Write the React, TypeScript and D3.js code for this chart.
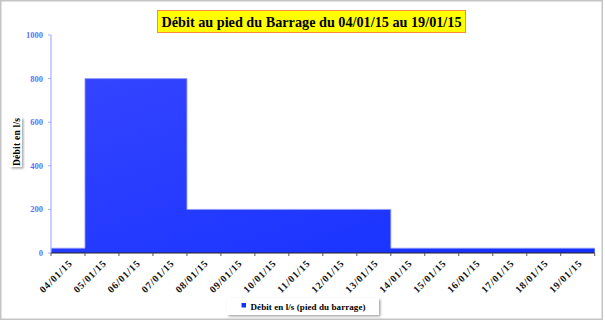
import React from "react";
import * as d3 from "d3";

const categories = ["04/01/15","05/01/15","06/01/15","07/01/15","08/01/15","09/01/15","10/01/15","11/01/15","12/01/15","13/01/15","14/01/15","15/01/15","16/01/15","17/01/15","18/01/15","19/01/15"];
const values = [22, 800, 800, 800, 200, 200, 200, 200, 200, 200, 22, 22, 22, 22, 22, 22];
const yTicks = [0, 200, 400, 600, 800, 1000];
const title = "Débit au pied du Barrage du 04/01/15 au 19/01/15";
const yTitle = "Débit en l/s";
const legendLabel = "Débit en l/s (pied du barrage)";

export default function App() {
  const W = 605, H = 321;
  const left = 51, right = 594.7, top = 35, bottom = 253;
  const x = d3.scaleBand<string>().domain(categories).range([left, right]).padding(0);
  const y = d3.scaleLinear().domain([0, 1000]).range([bottom, top]);
  const pts: [number, number][] = categories.map((c, i) => [x(c)!, values[i]]);
  pts.push([right, values[values.length - 1]]);
  const area = d3.area<[number, number]>().x(d => d[0]).y0(y(0)).y1(d => y(d[1])).curve(d3.curveStepAfter);
  const line = d3.line<[number, number]>().x(d => d[0]).y(d => y(d[1])).curve(d3.curveStepAfter);
  const serif = "'Liberation Serif', 'DejaVu Serif', serif";
  const tickXs = [...categories.map(c => x(c)!), right];
  return (
    <svg width={W} height={H} style={{ position: "absolute", left: 0, top: 0 }}>
      <defs>
        <linearGradient id="g" x1="0" y1="0" x2="1" y2="1">
          <stop offset="0" stopColor="#3545ff" />
          <stop offset="1" stopColor="#1430ff" />
        </linearGradient>
        <filter id="sh" x="-20%" y="-20%" width="140%" height="160%">
          <feDropShadow dx="1.5" dy="1.5" stdDeviation="1" floodColor="#000" floodOpacity="0.35" />
        </filter>
      </defs>
      <rect x={0} y={0} width={W} height={H} fill="#fff" />
      <rect x={0.75} y={0.75} width={601.5} height={318.5} fill="none" stroke="#c4c4c4" strokeWidth={1.5} />
      <path d={area(pts)!} fill="url(#g)" />
      <path d={line(pts)!} fill="none" stroke="#8f9cff" strokeWidth={0.8} />
      {/* y axis */}
      <line x1={left} x2={left} y1={top} y2={bottom} stroke="#a3b0ff" strokeWidth={1.2} />
      {yTicks.map(t => (
        <g key={t}>
          <line x1={left - 3} x2={left} y1={y(t)} y2={y(t)} stroke="#a3b0ff" strokeWidth={1} />
          <text x={43} y={y(t) + 3} textAnchor="end" fontFamily={serif} fontWeight="bold" fontSize={8.5} fill="#5a74ff">{t}</text>
        </g>
      ))}
      {/* x axis */}
      <line x1={left} x2={right} y1={bottom} y2={bottom} stroke="#222" strokeWidth={1} />
      {tickXs.map((tx, i) => (
        <line key={i} x1={tx} x2={tx} y1={bottom} y2={bottom + 3} stroke="#555" strokeWidth={1} />
      ))}
      {categories.map(c => {
        const cx = x(c)! + x.bandwidth() / 2 + 2;
        const cy = 262;
        return (
          <text key={c} x={cx} y={cy} transform={`rotate(-45 ${cx} ${cy})`} textAnchor="end" dy="0.35em"
            fontFamily={serif} fontWeight="bold" fontSize={10} textLength={41} lengthAdjust="spacing" fill="#111">{c}</text>
        );
      })}
      {/* title */}
      <rect x={157.5} y={10.5} width={308} height={22} fill="#ffff00" stroke="#ff8a3a" strokeWidth={1} />
      <text x={311.5} y={26.5} textAnchor="middle" fontFamily={serif} fontWeight="bold" fontSize={14.5} textLength={300} lengthAdjust="spacingAndGlyphs" fill="#000">{title}</text>
      {/* y title */}
      <g filter="url(#sh)">
        <rect x={10} y={117} width={12} height={50} fill="#fff" />
      </g>
      <text transform={`translate(19.5 142) rotate(-90)`} textAnchor="middle" fontFamily={serif} fontWeight="bold" fontSize={9.5} textLength={48} lengthAdjust="spacing" fill="#000">{yTitle}</text>
      {/* legend */}
      <g filter="url(#sh)">
        <rect x={227} y={298} width={152} height={17} fill="#fff" />
      </g>
      <rect x={241.5} y={303} width={4.5} height={4.5} fill="#1430ff" />
      <text x={250.5} y={309.5} fontFamily={serif} fontWeight="bold" fontSize={9} textLength={115} lengthAdjust="spacing" fill="#000">{legendLabel}</text>
    </svg>
  );
}
